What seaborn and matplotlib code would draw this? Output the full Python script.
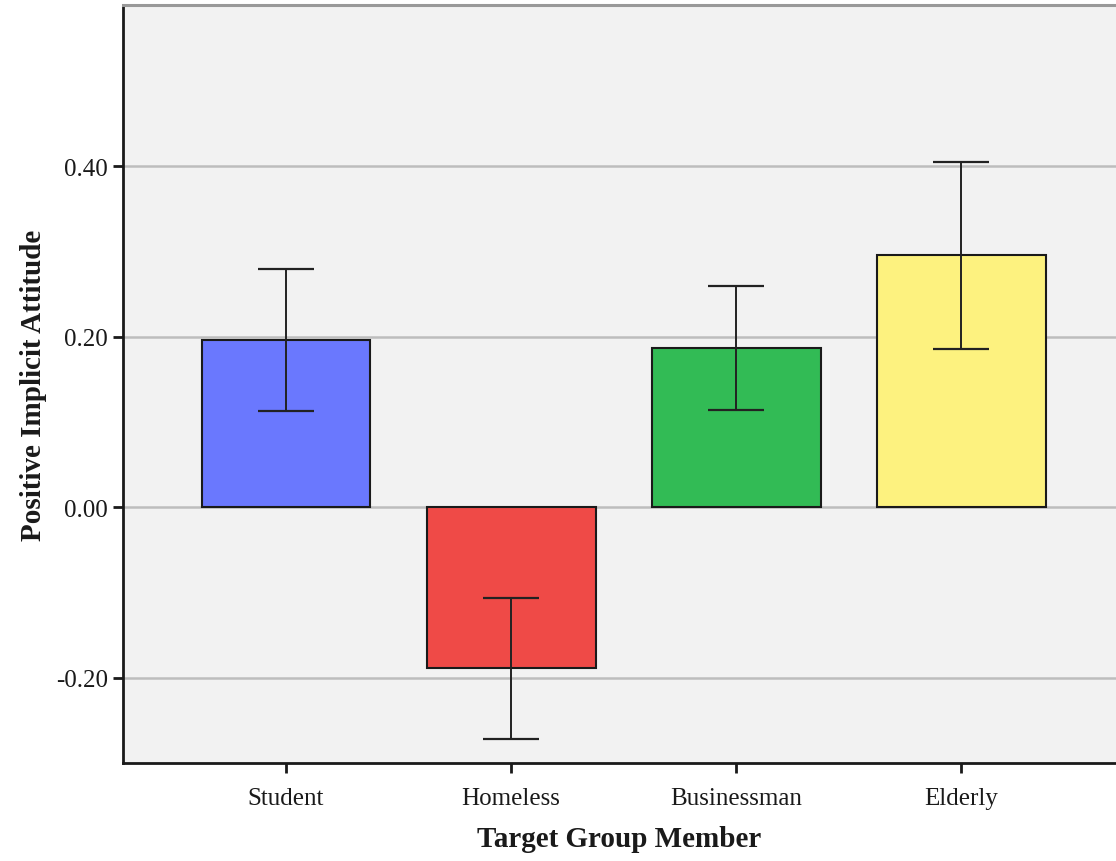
import matplotlib
matplotlib.use("Agg")
import matplotlib.pyplot as plt
import seaborn as sns
import pandas as pd
import numpy as np

# Mean positive implicit attitude per target group, with error bar bounds
groups = ["Student", "Homeless", "Businessman", "Elderly"]
means = [0.196, -0.189, 0.187, 0.296]
err_low = [0.113, -0.272, 0.114, 0.185]
err_high = [0.279, -0.107, 0.259, 0.405]
colors = ["#6a78fe", "#ef4a47", "#32bb55", "#fdf27f"]
yticks = [-0.20, 0.00, 0.20, 0.40]

sns.set_theme(style="white")
plt.rcParams["font.family"] = ["Liberation Serif", "DejaVu Serif"]

df = pd.DataFrame({"group": groups, "mean": means})

fig = plt.figure(figsize=(11.16, 8.62), dpi=100)
ax = fig.add_axes([0.1102, 0.1137, 0.8898, 0.8793])
ax.set_facecolor("#f2f2f2")

sns.barplot(data=df, x="group", y="mean", hue="group", palette=colors,
            order=groups, hue_order=groups, legend=False, errorbar=None,
            saturation=1, width=0.75, edgecolor="#1a1a1a", linewidth=1.5,
            ax=ax, zorder=3)

x = np.arange(len(groups))
lo = np.array(means) - np.array(err_low)
hi = np.array(err_high) - np.array(means)
ax.errorbar(x, means, yerr=[lo, hi], fmt="none", ecolor="#222222",
            elinewidth=1.4, capsize=20, capthick=1.6, zorder=4)

ax.set_xlim(-0.724, 3.687)
ax.set_ylim(-0.300, 0.589)
ax.set_yticks(yticks)
ax.set_yticklabels([f"{v:.2f}" for v in yticks])
ax.yaxis.grid(True, color="#bdbdbd", linewidth=1.8, zorder=0)
ax.set_axisbelow(True)

for side in ["left", "bottom"]:
    ax.spines[side].set_color("#1a1a1a")
    ax.spines[side].set_linewidth(2)
ax.spines["top"].set_color("#999999")
ax.spines["top"].set_linewidth(2.2)
ax.spines["right"].set_visible(False)

ax.tick_params(axis="both", which="major", direction="out", length=7,
               width=2, color="#1a1a1a", labelsize=18, labelcolor="#1a1a1a",
               left=True, bottom=True)
ax.tick_params(axis="y", pad=4)
ax.tick_params(axis="x", pad=10)

ax.set_xlabel("Target Group Member", fontsize=21, fontweight="bold",
              color="#1a1a1a", labelpad=12)
ax.set_ylabel("Positive Implicit Attitude", fontsize=21, fontweight="bold",
              color="#1a1a1a", labelpad=6)

fig.savefig("out.png", dpi=100)
